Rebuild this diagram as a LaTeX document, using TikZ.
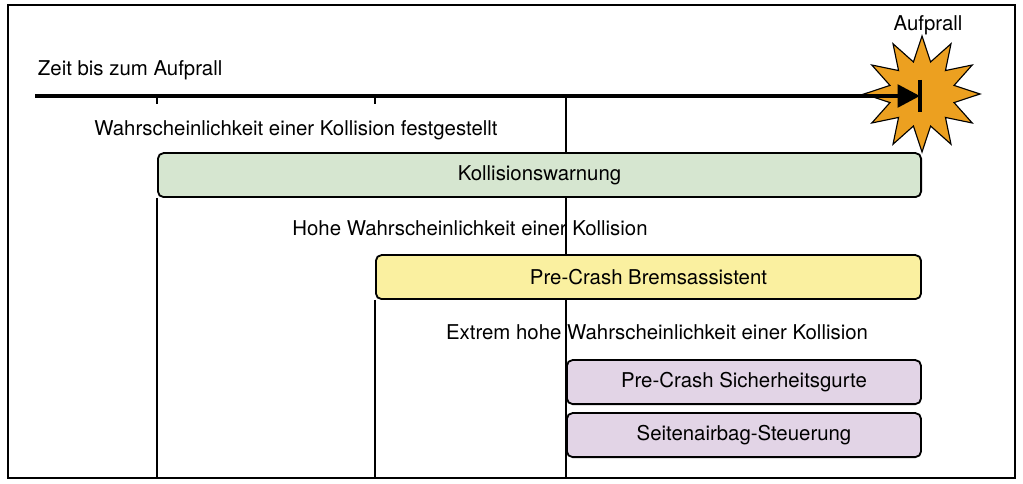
\documentclass[tikz,border=0pt]{standalone}
\usepackage{fontspec}
\setmainfont{TeX Gyre Heros}
\usetikzlibrary{shapes.geometric,arrows.meta}
\definecolor{warngreen}{RGB}{214,230,208}
\definecolor{brakeyellow}{RGB}{250,240,160}
\definecolor{beltlilac}{RGB}{226,212,230}
\definecolor{crashorange}{RGB}{236,160,32}
\tikzset{phase/.style={draw,line width=1.3pt,rounded corners=4pt,minimum height=1.1cm,anchor=south west,inner sep=0pt,font=\fontsize{14.5}{17}\selectfont}}
\tikzset{lbl/.style={font=\fontsize{14.5}{17}\selectfont}}

\begin{document}
\begin{tikzpicture}[x=0.025cm,y=-0.025cm]
      \useasboundingbox (0,0) rectangle (1023,484);
      \draw[thick] (8,5) rectangle (1015,478);

      % Aufprall
      \node[star,star points=12,star point ratio=1.75,minimum size=2.9cm,draw,thick,fill=crashorange] (crash) at (922,94) {};
      \node[lbl] (crashlbl) at (928,25) {Aufprall};
      \coordinate (start) at (35,96);
      \coordinate (hit) at (920,96);
      \draw[line width=3pt,-{Triangle[length=16pt,width=16pt]}] (start) -- (hit);
      \draw[line width=3pt] (920,80) -- (920,112);
      \node[lbl,anchor=west] (timelbl) at (33,70) {Zeit bis zum Aufprall};

      % Zeitmarken
      \draw[thick] (157,96) -- (157,104);
      \draw[thick] (375,96) -- (375,104);
      \draw[thick] (566,96) -- (566,478);

      % Phasen
      \node[lbl] (p1) at (296,130) {Wahrscheinlichkeit einer Kollision festgestellt};
      \node[phase,fill=warngreen,minimum width=19.075cm] (warn) at (157,198) {Kollisionswarnung};
      \draw[thick] (warn.south west) -- (157,478);

      \node[lbl] (p2) at (470,228) {Hohe Wahrscheinlichkeit einer Kollision};
      \node[phase,fill=brakeyellow,minimum width=13.625cm] (brake) at (375,300) {Pre-Crash Bremsassistent};
      \draw[thick] (brake.south west) -- (375,478);

      \node[lbl] (p3) at (657,332) {Extrem hohe Wahrscheinlichkeit einer Kollision};
      \node[phase,fill=beltlilac,minimum width=8.85cm] (belt) at (566,405) {Pre-Crash Sicherheitsgurte};
      \node[phase,fill=beltlilac,minimum width=8.85cm] (airbag) at (566,458) {Seitenairbag-Steuerung};
\end{tikzpicture}
\end{document}
